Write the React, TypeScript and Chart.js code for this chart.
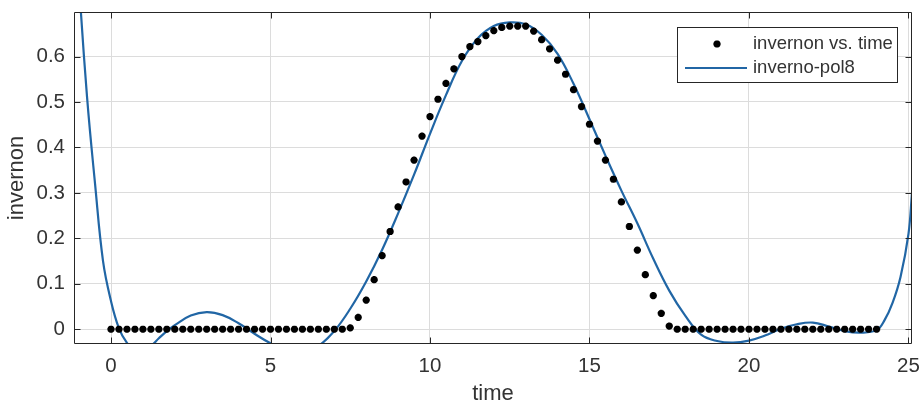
import React, { useEffect, useRef } from 'react';
import { Chart, registerables } from 'chart.js';

Chart.register(...registerables);

// ---- data ----
const timeValues = [
  0, 0.25, 0.5, 0.75, 1, 1.25, 1.5, 1.75, 2, 2.25, 2.5, 2.75, 3, 3.25, 3.5, 3.75,
  4, 4.25, 4.5, 4.75, 5, 5.25, 5.5, 5.75, 6, 6.25, 6.5, 6.75, 7, 7.25, 7.5, 7.75,
  8, 8.25, 8.5, 8.75, 9, 9.25, 9.5, 9.75, 10, 10.25, 10.5, 10.75, 11, 11.25, 11.5, 11.75,
  12, 12.25, 12.5, 12.75, 13, 13.25, 13.5, 13.75, 14, 14.25, 14.5, 14.75, 15, 15.25, 15.5, 15.75,
  16, 16.25, 16.5, 16.75, 17, 17.25, 17.5, 17.75, 18, 18.25, 18.5, 18.75, 19, 19.25, 19.5, 19.75,
  20, 20.25, 20.5, 20.75, 21, 21.25, 21.5, 21.75, 22, 22.25, 22.5, 22.75, 23, 23.25, 23.5, 23.75,
  24,
];

const invernonValues = [
  0, 0, 0, 0, 0, 0, 0, 0, 0, 0, 0, 0, 0, 0, 0, 0,
  0, 0, 0, 0, 0, 0, 0, 0, 0, 0, 0, 0, 0, 0, 0.003, 0.026,
  0.064, 0.109, 0.162, 0.215, 0.269, 0.324, 0.372, 0.425, 0.468, 0.506, 0.541, 0.573, 0.6, 0.622, 0.633, 0.646,
  0.657, 0.664, 0.667, 0.667, 0.667, 0.656, 0.637, 0.617, 0.592, 0.561, 0.527, 0.49, 0.451, 0.414, 0.372, 0.33,
  0.28, 0.226, 0.174, 0.12, 0.074, 0.035, 0.007, 0, 0, 0, 0, 0, 0, 0, 0, 0,
  0, 0, 0, 0, 0, 0, 0, 0, 0, 0, 0, 0, 0, 0, 0, 0,
  0,
];

// fitted polynomial curve
const fitTime = [
  -1.16, -1, -0.75, -0.5, -0.25, 0, 0.25, 0.5, 0.75, 1, 1.25, 1.5, 1.75, 2, 2.5,
  3, 3.5, 4, 4.5, 5, 5.5, 6, 6.5, 7, 7.5, 8, 8.5, 9, 9.5, 10,
  10.5, 11, 11.5, 12, 12.5, 13, 13.5, 14, 14.5, 15, 15.5, 16, 16.5, 17, 17.5,
  18, 18.5, 19, 19.5, 20, 20.5, 21, 21.5, 22, 22.5, 23, 23.5, 24, 24.25, 24.5,
  24.75, 25, 25.11,
];
const fitValues = [
  0.98, 0.76, 0.51, 0.32, 0.15, 0.062, 0.002, -0.03, -0.045, -0.047, -0.037, -0.02, -0.004, 0.009, 0.03,
  0.0375, 0.031, 0.013, -0.01, -0.031, -0.047, -0.051, -0.037, -0.004, 0.045, 0.105, 0.175, 0.255, 0.34, 0.43,
  0.515, 0.59, 0.64, 0.667, 0.675, 0.671, 0.648, 0.606, 0.54, 0.462, 0.382, 0.305, 0.233, 0.155, 0.085,
  0.03, -0.012, -0.026, -0.0295, -0.025, -0.014, 0.001, 0.011, 0.0146, 0.006, -0.004, -0.0075, -0.002, 0.02, 0.058,
  0.115, 0.21, 0.3,
];

const xTickValues = [0, 5, 10, 15, 20, 25];
const xTickLabels = ['0', '5', '10', '15', '20', '25'];
const yTickValues = [0, 0.1, 0.2, 0.3, 0.4, 0.5, 0.6];
const yTickLabels = ['0', '0.1', '0.2', '0.3', '0.4', '0.5', '0.6'];

const xRange = [-1.16, 25.11];
const yRange = [-0.0325, 0.698];

const seriesLabels = ['invernon vs. time', 'inverno-pol8'];
const axisTitles = { x: 'time', y: 'invernon' };

// ---- styles ----
const FONT = '"Liberation Sans", Arial, Helvetica, sans-serif';
const TEXT = '#333333';
const AXIS = '#262626';
const GRID = '#dcdcdc';
const LINE = '#2166a5';

function drawStar(ctx: CanvasRenderingContext2D, x: number, y: number, r: number) {
  ctx.beginPath();
  for (let k = 0; k < 4; k++) {
    const a = (k * Math.PI) / 4;
    const dx = Math.cos(a) * r;
    const dy = Math.sin(a) * r;
    ctx.moveTo(x - dx, y - dy);
    ctx.lineTo(x + dx, y + dy);
  }
  ctx.stroke();
}

const framePlugin = {
  id: 'matlabFrame',
  afterDatasetsDraw(chart: any) {
    const { ctx, chartArea } = chart;
    const { left, right, top, bottom } = chartArea;
    const xs = chart.scales.x;
    const ys = chart.scales.y;
    ctx.save();
    ctx.strokeStyle = AXIS;
    ctx.lineWidth = 1;
    const L = Math.round(left) + 0.5;
    const R = Math.round(right) - 0.5;
    const T = Math.round(top) + 0.5;
    const B = Math.round(bottom) - 0.5;
    ctx.beginPath();
    ctx.rect(L, T, R - L, B - T);
    ctx.stroke();
    const tl = 6;
    ctx.beginPath();
    xTickValues.forEach((v) => {
      const px = Math.round(xs.getPixelForValue(v)) + 0.5;
      ctx.moveTo(px, B);
      ctx.lineTo(px, B - tl);
      ctx.moveTo(px, T);
      ctx.lineTo(px, T + tl);
    });
    yTickValues.forEach((v) => {
      const py = Math.round(ys.getPixelForValue(v)) + 0.5;
      ctx.moveTo(L, py);
      ctx.lineTo(L + tl, py);
      ctx.moveTo(R, py);
      ctx.lineTo(R - tl, py);
    });
    ctx.stroke();
    ctx.restore();
  },
  afterDraw(chart: any) {
    const { ctx } = chart;
    ctx.save();
    // legend box
    const bx = 677.5, by = 27.5, bw = 220, bh = 55;
    ctx.fillStyle = '#ffffff';
    ctx.fillRect(bx, by, bw, bh);
    ctx.strokeStyle = AXIS;
    ctx.lineWidth = 1;
    ctx.strokeRect(bx, by, bw, bh);
    // item 1: marker
    ctx.strokeStyle = '#000000';
    ctx.lineWidth = 2.4;
    drawStar(ctx, 717, 44, 3.6);
    // item 2: line
    ctx.strokeStyle = LINE;
    ctx.lineWidth = 2.2;
    ctx.beginPath();
    ctx.moveTo(685, 68);
    ctx.lineTo(747, 68);
    ctx.stroke();
    ctx.fillStyle = TEXT;
    ctx.font = `18.5px ${FONT}`;
    ctx.textBaseline = 'middle';
    ctx.textAlign = 'left';
    ctx.fillText(chart.data.datasets[0].label, 753, 44);
    ctx.fillText(chart.data.datasets[1].label, 753, 68);
    ctx.restore();
  },
};

export default function App() {
  const ref = useRef<HTMLCanvasElement>(null);

  useEffect(() => {
    const canvas = ref.current;
    if (!canvas) return;
    const pointData = timeValues.map((t, i) => ({ x: t, y: invernonValues[i] }));
    const fitData = fitTime.map((t, i) => ({ x: t, y: fitValues[i] }));

    const chart = new Chart(canvas, {
      type: 'scatter',
      data: {
        datasets: [
          {
            label: seriesLabels[0],
            data: pointData,
            pointStyle: 'star',
            pointRadius: 3.6,
            pointBorderWidth: 2.4,
            pointBorderColor: '#000000',
            pointBackgroundColor: '#000000',
            showLine: false,
            order: 0,
          } as any,
          {
            label: seriesLabels[1],
            data: fitData,
            showLine: true,
            borderColor: LINE,
            borderWidth: 2.2,
            pointRadius: 0,
            tension: 0.4,
            clip: 0,
            order: 1,
          } as any,
        ],
      },
      options: {
        animation: false,
        responsive: false,
        devicePixelRatio: 1,
        events: [],
        layout: { padding: { left: 0, right: 8, top: 12, bottom: 0 } },
        plugins: {
          legend: { display: false },
          tooltip: { enabled: false },
        },
        scales: {
          x: {
            type: 'linear',
            min: xRange[0],
            max: xRange[1],
            afterBuildTicks: (s: any) => {
              s.ticks = xTickValues.map((v) => ({ value: v }));
            },
            afterFit: (s: any) => {
              s.height = 61;
              s.paddingLeft = 0;
              s.paddingRight = 0;
            },
            grid: { color: GRID, lineWidth: 1, drawTicks: false },
            border: { display: false },
            ticks: {
              color: TEXT,
              font: { family: FONT, size: 20.5 },
              padding: 10,
              maxRotation: 0,
              autoSkip: false,
              callback: (_v: any, i: number) => xTickLabels[i],
            },
            title: {
              display: true,
              text: axisTitles.x,
              color: TEXT,
              font: { family: FONT, size: 22, lineHeight: 1 },
              padding: { top: 0, bottom: 0 },
            },
          },
          y: {
            type: 'linear',
            min: yRange[0],
            max: yRange[1],
            afterBuildTicks: (s: any) => {
              s.ticks = yTickValues.map((v) => ({ value: v }));
            },
            afterFit: (s: any) => {
              s.width = 74;
              s.paddingTop = 0;
              s.paddingBottom = 0;
            },
            grid: { color: GRID, lineWidth: 1, drawTicks: false },
            border: { display: false },
            ticks: {
              color: TEXT,
              font: { family: FONT, size: 20.5 },
              padding: 9,
              autoSkip: false,
              callback: (_v: any, i: number) => yTickLabels[i],
            },
            title: {
              display: true,
              text: axisTitles.y,
              color: TEXT,
              font: { family: FONT, size: 22, lineHeight: 1 },
              padding: { top: 5.5, bottom: 0 },
            },
          },
        },
      },
      plugins: [framePlugin],
    } as any);

    return () => chart.destroy();
  }, []);

  return (
    <div style={{ position: 'fixed', left: 0, top: 0, width: 920, height: 405, background: '#ffffff' }}>
      <canvas ref={ref} width={920} height={405} style={{ width: 920, height: 405, display: 'block' }} />
    </div>
  );
}
